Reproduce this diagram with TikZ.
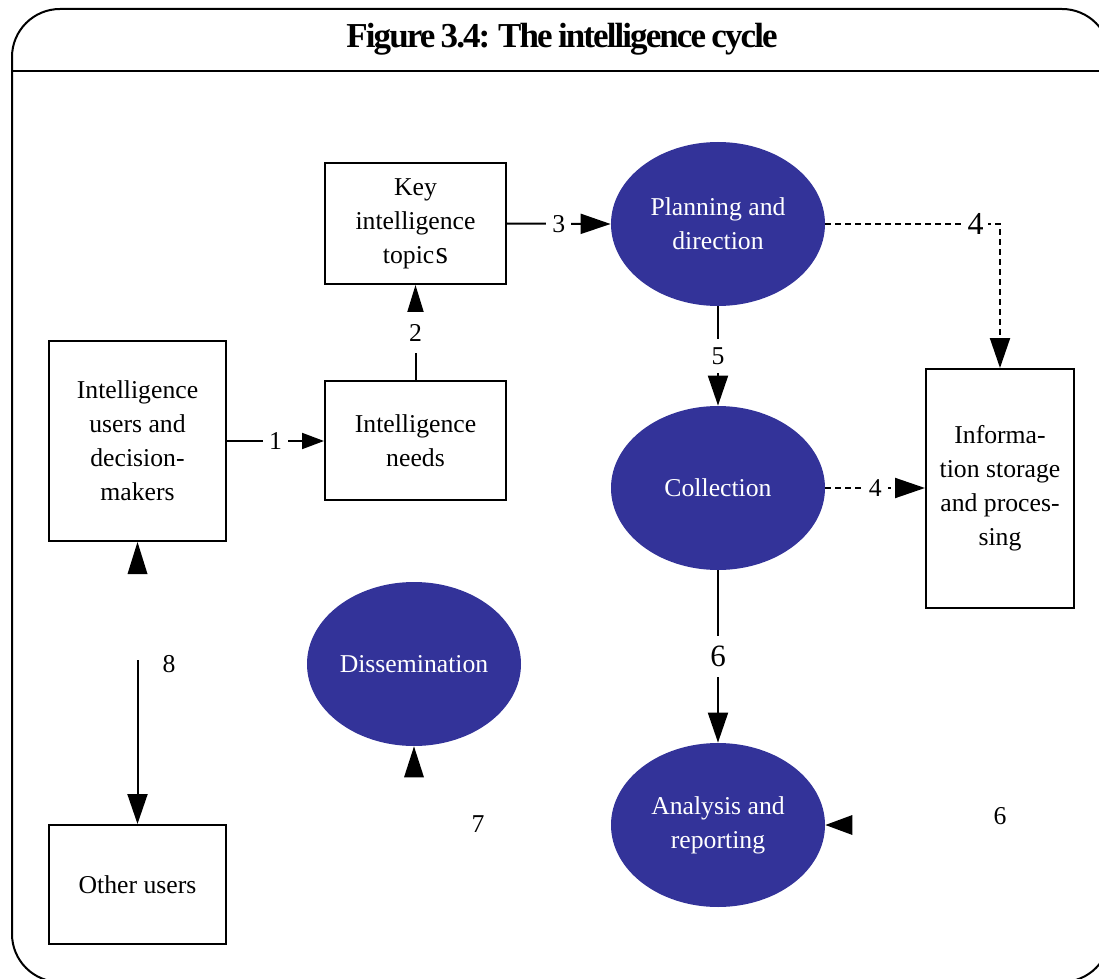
\documentclass[tikz,border=0pt]{standalone}
\usepackage{fontspec}
\setmainfont{Liberation Serif}
\newfontfamily\titlefont[LetterSpace=-5.5, WordSpace=0.8]{Liberation Serif}
\usetikzlibrary{shapes.geometric,arrows.meta}
\definecolor{cycleblue}{HTML}{333399}
\tikzset{
  every node/.style={font=\fontsize{12.85}{17}\selectfont},
  stepbox/.style={draw, line width=1pt, align=center, inner sep=2pt},
  phase/.style={ellipse, fill=cycleblue, text=white, align=center, inner sep=0pt,
                minimum width=107pt, minimum height=82pt},
  link/.style={line width=1pt, -{Triangle[length=15pt,width=10pt]}},
  smalllink/.style={line width=1pt, -{Triangle[length=11pt,width=8pt]}},
  uplink/.style={line width=1pt, -{Triangle[length=13.5pt,width=8pt]}},
  dlink/.style={link, dash pattern=on 3pt off 2pt},
  lab/.style={fill=white, inner sep=3pt},
  biglab/.style={fill=white, inner sep=2pt, font=\fontsize{15.5}{17}\selectfont},
}
\begin{document}
\begin{tikzpicture}[x=0.5pt, y=-0.5pt]
\useasboundingbox (0,0) rectangle (1099,979);

% outer frame with title bar
\begin{scope}
  \clip (0,0) rectangle (1099,979);
  \draw[line width=1pt, rounded corners=24pt] (12,9) rectangle (1110,982);
  \draw[line width=1pt] (12,71) -- (1110,71);
\end{scope}
\node (title) at (562,39) {\titlefont\fontsize{17.5}{20}\selectfont\bfseries Figure 3.4: The intelligence cycle};

% boxes
\node[stepbox, minimum width=88.5pt, minimum height=100pt] (users) at (137.5,441)
  {Intelligence\\users and\\decision-\\makers};
\node[stepbox, minimum width=90.5pt, minimum height=59.5pt] (needs) at (415.5,440.5)
  {Intelligence\\needs};
\node[stepbox, minimum width=90.5pt, minimum height=60.5pt] (key) at (415.5,223.5)
  {Key\\intelligence\\topic\kern0.6pt{\fontsize{16}{17}\selectfont s}};
\node[stepbox, minimum width=74pt, minimum height=119.5pt] (info) at (1000,488.5)
  {Informa-\\tion storage\\and proces-\\sing};
\node[stepbox, minimum width=88.5pt, minimum height=59.5pt] (other) at (137.5,884.5)
  {Other users};

% phases of the cycle
\node[phase] (plan) at (718,224) {Planning and\\direction};
\node[phase] (coll) at (718,488) {Collection};
\node[phase] (diss) at (414,664) {Dissemination};
\node[phase] (anal) at (718,825) {Analysis and\\reporting};

% connectors
\draw[smalllink] (users.east) -- (users.east -| needs.west) node[midway, lab] {1};
\draw[uplink] (needs.north) -- (key.south) node[midway, lab, inner sep=6pt] {2};
\draw[link] (key.east) -- (plan.west) node[midway, lab] {3};
\draw[dlink] (plan.east) -| (info.north) node[pos=0.43, biglab, font=\fontsize{16}{17}\selectfont] {4};
\draw[dlink] (coll.east) -- (info.west |- coll.east) node[midway, lab] {4};
\draw[link] (plan.south) -- (coll.north) node[midway, lab, inner sep=4pt] {5};
\draw[link] (coll.south) -- (anal.north) node[midway, biglab, inner sep=5pt] {6};
\coordinate (c8) at (137.5,660);
\draw[link] (c8) -- (other.north);

% arrowheads without a line
\fill (users.south) -- ++(-10,32) -- ++(20,0) -- cycle;
\fill (diss.south) -- ++(-10,31) -- ++(20,0) -- cycle;
\fill (anal.east) -- ++(27,-10) -- ++(0,20) -- cycle;

% loose numbers
\node (n8) at (169,664) {8};
\node (n7) at (478,824) {7};
\node (n6) at (1000,816) {6};
\end{tikzpicture}
\end{document}
